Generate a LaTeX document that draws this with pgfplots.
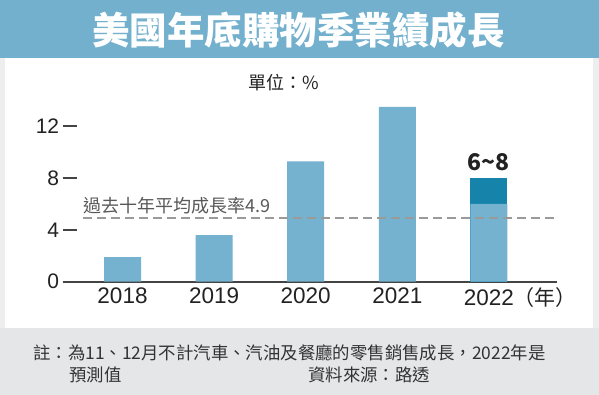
\documentclass[border=0pt]{standalone}
\usepackage{fontspec}
\setmainfont{Noto Sans CJK TC}
\newfontfamily\lib{Liberation Sans}
\newfontfamily\cjk{Noto Sans CJK TC}
\usepackage{pgfplots}
\pgfplotsset{compat=1.18}
\definecolor{titleblue}{HTML}{72B0CE}
\definecolor{barblue}{HTML}{74B2D0}
\definecolor{darkblue}{HTML}{1683AB}
\definecolor{sidegray}{HTML}{EEEEEE}
\definecolor{footgray}{HTML}{E5E6E8}
\definecolor{axisgray}{HTML}{444444}
\definecolor{dashgray}{HTML}{9A9A9A}
\definecolor{txt}{HTML}{222222}
\begin{document}
\begin{tikzpicture}[x=1pt,y=1pt]
\fill[sidegray] (0,0) rectangle (599,395);
\useasboundingbox (0,0) rectangle (599,395);
\fill[footgray] (0,0) rectangle (599,67);
\fill[white] (5,67) rectangle (592.7,337);
\fill[titleblue] (0,337) rectangle (599,395);
\node[text=white, font=\fontsize{37.5}{40}\selectfont\bfseries] at (298.5,365) {美國年底購物季業績成長};
\node[text=txt, font=\fontsize{18}{20}\selectfont] at (283.5,312) {單位：\%};
\begin{axis}[
  at={(62.7pt,113.3pt)}, anchor=south west,
  scale only axis, width=494pt, height=181.3pt,
  xmin=-0.653, xmax=4.74, ymin=0, ymax=14,
  axis x line=bottom, axis y line=left, axis line style={-},
  y axis line style={draw=none},
  x axis line style={axisgray, line width=2pt},
  ytick={0,4,8,12},
  tick align=inside, major tick length=14pt,
  ytick style={axisgray, line width=1.8pt},
  xtick={0,1,2,3,4},
  xticklabels={2018,2019,2020,2021,2022\rlap{\cjk\fontsize{21}{23}\selectfont （年）}},
  xtick style={draw=none},
  /pgf/number format/assume math mode=true,
  xticklabel style={font=\lib\fontsize{22.5}{24}\selectfont, text=txt, yshift=-2.5pt},
  yticklabel style={font=\lib\fontsize{21}{23}\selectfont, text=txt},
  clip=false,
]
\addplot[ybar, bar width=37pt, bar shift=0pt, fill=darkblue, draw=none] coordinates {(4,8)};
\addplot[ybar, bar width=37pt, bar shift=0pt, fill=barblue, draw=none] coordinates {(0,1.9) (1,3.6) (2,9.3) (3,13.5) (4,6)};
\addplot[dashgray, line width=1.5pt, dash pattern=on 9pt off 5pt] coordinates {(-0.431,4.9) (4.74,4.9)};
\node[anchor=west, inner sep=0pt, text=black!65, font=\fontsize{18}{20}\selectfont] at (axis cs:-0.431,5.85) {過去十年平均成長率4.9};
\node[anchor=south, inner sep=0pt, text=txt, font=\fontsize{23}{25}\selectfont\bfseries] at (axis cs:4,8) [yshift=7.5pt] {6\textasciitilde 8};
\end{axis}
\begin{scope}[font=\fontsize{17.4}{19}\selectfont, text=black!80]
\node[anchor=west, inner sep=0pt] at (33,42) {註：為11、12月不計汽車、汽油及餐廳的零售銷售成長，2022年是};
\node[anchor=west, inner sep=0pt] at (69,20) {預測值};
\node[anchor=west, inner sep=0pt] at (308,20) {資料來源：路透};
\end{scope}
\end{tikzpicture}
\end{document}
